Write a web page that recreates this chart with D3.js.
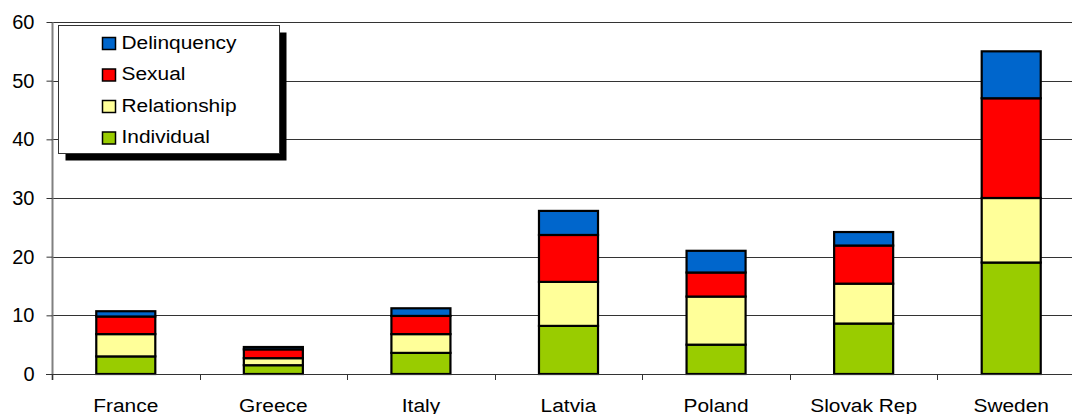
<!DOCTYPE html>
<html>
<head>
<meta charset="utf-8">
<script src="https://cdn.jsdelivr.net/npm/d3@7"></script>
<style>
  body { margin: 0; background: #fff; }
  text { font-family: "Liberation Sans", Arial, sans-serif; fill: #000; }
</style>
</head>
<body>
<div id="chart"></div>
<script>
var svgWidth = 1072;
var svgHeight = 414;

// data
var countries = ["France", "Greece", "Italy", "Latvia", "Poland", "Slovak Rep", "Sweden"];
var individual   = [3.0, 1.5, 3.6, 8.2, 5.0, 8.6, 19.0];
var relationship = [3.8, 1.2, 3.2, 7.5, 8.2, 6.8, 11.0];
var sexual       = [3.0, 1.5, 3.1, 8.0, 4.1, 6.5, 17.0];
var delinquency  = [0.9, 0.4, 1.3, 4.1, 3.7, 2.3, 8.0];
var yTicks = [0, 10, 20, 30, 40, 50, 60];

var seriesNames = ["Individual", "Relationship", "Sexual", "Delinquency"];
var colors = { Individual: "#99CC00", Relationship: "#FFFF99", Sexual: "#FF0000", Delinquency: "#0066CC" };

var table = countries.map(function (c, i) {
  return { country: c, Individual: individual[i], Relationship: relationship[i], Sexual: sexual[i], Delinquency: delinquency[i] };
});

var margin = { top: 22, left: 52, bottom: 40 };
var plotRight = 1085; // plot runs past the window edge, as in the reference

var svg = d3.select("#chart")
  .append("svg")
  .attr("width", svgWidth)
  .attr("height", svgHeight);

var x = d3.scaleBand()
  .domain(countries)
  .range([margin.left, plotRight])
  .paddingInner(0.6)
  .paddingOuter(0.3);

var y = d3.scaleLinear()
  .domain([0, 60])
  .range([374, margin.top]);

// gridlines
svg.append("g")
  .selectAll("line")
  .data(yTicks.filter(function (d) { return d > 0; }))
  .enter()
  .append("line")
  .attr("x1", margin.left)
  .attr("x2", svgWidth)
  .attr("y1", function (d) { return Math.round(y(d)) + 0.5; })
  .attr("y2", function (d) { return Math.round(y(d)) + 0.5; })
  .attr("stroke", "#333");

// left axis
var leftAxis = d3.axisLeft(y).tickValues(yTicks).tickSize(6).tickPadding(12);
var gy = svg.append("g")
  .attr("transform", "translate(" + (margin.left + 0.5) + ",0)")
  .call(leftAxis);
gy.select(".domain").attr("stroke", "#808080").attr("stroke-width", 2).attr("d", "M-0,22V380");
gy.selectAll(".tick line").attr("stroke", "#333");
gy.selectAll(".tick text").attr("font-size", "20px");

// stacked bars
var stack = d3.stack().keys(seriesNames);
var layers = stack(table);

svg.append("g")
  .selectAll("g")
  .data(layers)
  .enter()
  .append("g")
  .attr("fill", function (d) { return colors[d.key]; })
  .selectAll("rect")
  .data(function (d) { return d; })
  .enter()
  .append("rect")
  .attr("x", function (d) { return x(d.data.country); })
  .attr("width", x.bandwidth())
  .attr("y", function (d) { return y(d[1]); })
  .attr("height", function (d) { return y(d[0]) - y(d[1]); })
  .attr("stroke", "#000")
  .attr("stroke-width", 2.2);

// bottom axis
var step = x.step();
var bottomAxis = d3.axisBottom(x).tickSize(0);
var gx = svg.append("g")
  .attr("transform", "translate(0," + (y(0) + 0.5) + ")")
  .call(bottomAxis);
gx.select(".domain").attr("stroke", "#333").attr("d", "M" + (margin.left - 6) + ",0H" + svgWidth);
gx.selectAll(".tick text")
  .attr("font-size", "19px")
  .attr("y", 0).attr("dy", 0)
  .attr("transform", "translate(0,37) scale(1.1,1)");

// category separators
svg.append("g")
  .selectAll("line")
  .data(d3.range(countries.length + 1))
  .enter()
  .append("line")
  .attr("x1", function (i) { return Math.round(margin.left + i * step) + 0.5; })
  .attr("x2", function (i) { return Math.round(margin.left + i * step) + 0.5; })
  .attr("y1", y(0))
  .attr("y2", y(0) + 6)
  .attr("stroke", "#333");

// legend
var legend = svg.append("g").attr("transform", "translate(58.5,25.5)");
legend.append("rect")
  .attr("x", 7).attr("y", 7)
  .attr("width", 221).attr("height", 128)
  .attr("fill", "#000");
legend.append("rect")
  .attr("width", 221).attr("height", 128)
  .attr("fill", "#fff")
  .attr("stroke", "#333");

var legendOrder = seriesNames.slice().reverse();
var items = legend.selectAll(".item")
  .data(legendOrder)
  .enter()
  .append("g")
  .attr("transform", function (d, i) { return "translate(44," + (12 + i * 31.5) + ")"; });
items.append("rect")
  .attr("width", 13).attr("height", 12)
  .attr("fill", function (d) { return colors[d]; })
  .attr("stroke", "#000")
  .attr("stroke-width", 1.5);
items.append("text")
  .attr("transform", "translate(19,11) scale(1.1,1)")
  .attr("font-size", "19px")
  .text(function (d) { return d; });
</script>
</body>
</html>
